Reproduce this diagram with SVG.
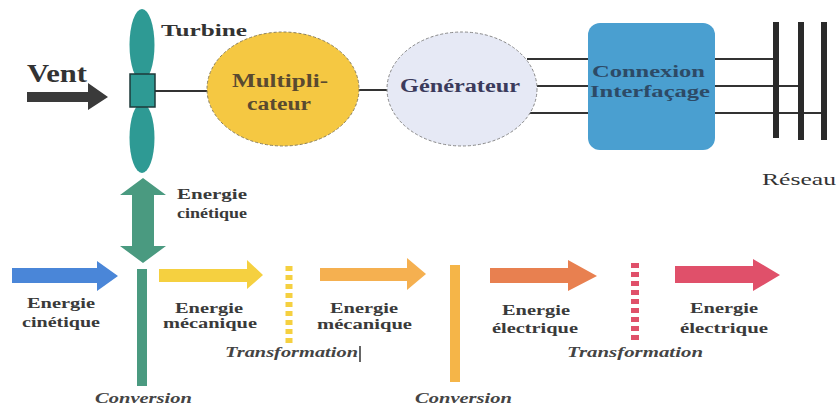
<svg xmlns="http://www.w3.org/2000/svg" width="838" height="408" viewBox="0 0 838 408" font-family="Liberation Serif, DejaVu Serif, serif">
<style>
text { fill: #333; }
.b { font-weight: bold; }
.lbl { font-size: 15px; font-weight: bold; fill: #3a3a3a; }
.it { font-size: 15px; font-style: italic; font-weight: bold; fill: #444; }
.wire { stroke: #333; stroke-width: 2; fill: none; }
.bar { fill: #2a2a2a; }
</style>
<rect width="838" height="408" fill="#ffffff"/>

<g id="connectors">
  <line class="wire" x1="155" y1="91" x2="208" y2="91"/>
  <line class="wire" x1="358" y1="90" x2="388" y2="90"/>
  <line class="wire" x1="527" y1="59" x2="590" y2="59"/>
  <line class="wire" x1="537" y1="86" x2="590" y2="86"/>
  <line class="wire" x1="529" y1="113" x2="590" y2="113"/>
  <line class="wire" x1="713" y1="59" x2="776" y2="59"/>
  <line class="wire" x1="713" y1="86" x2="801" y2="86"/>
  <line class="wire" x1="713" y1="113" x2="824" y2="113"/>
</g>

<g id="vent">
  <polygon points="27,92 88,92 88,83 108,97 88,110 88,102 27,102" fill="#3a3a3a"/>
  <text class="b" x="27" y="82" font-size="25" font-family="Liberation Serif" textLength="60" lengthAdjust="spacingAndGlyphs">Vent</text>
</g>

<g id="turbine">
  <ellipse cx="142" cy="45" rx="12.5" ry="36" fill="#2e9a94"/>
  <ellipse cx="142" cy="138" rx="12.5" ry="35" fill="#2e9a94"/>
  <rect x="130" y="74" width="25" height="33" fill="#2e9a94" stroke="#1e3a3a" stroke-width="1.5"/>
  <text class="b" x="161" y="36" font-size="17" textLength="86" lengthAdjust="spacingAndGlyphs">Turbine</text>
</g>

<g id="multiplicateur">
  <ellipse cx="283" cy="89" rx="76" ry="57" fill="#f5c842" stroke="#8a8060" stroke-width="1" stroke-dasharray="3,2"/>
  <text class="b" x="232" y="87" font-size="18" style="fill:#5a4a30" textLength="96" lengthAdjust="spacingAndGlyphs">Multipli-</text>
  <text class="b" x="247" y="110" font-size="18" style="fill:#5a4a30" textLength="64" lengthAdjust="spacingAndGlyphs">cateur</text>
</g>

<g id="generateur">
  <ellipse cx="462" cy="89" rx="75" ry="57" fill="#e6e9f5" stroke="#888" stroke-width="1" stroke-dasharray="3,2"/>
  <text class="b" x="400" y="92" font-size="18" style="fill:#3b3b5c" textLength="120" lengthAdjust="spacingAndGlyphs">Générateur</text>
</g>

<g id="connexion">
  <rect x="588" y="23" width="127" height="127" rx="12" fill="#4a9fd0"/>
  <text class="b" x="592" y="77" font-size="17" style="fill:#2d4a66" textLength="113" lengthAdjust="spacingAndGlyphs">Connexion</text>
  <text class="b" x="590" y="97" font-size="17" style="fill:#2d4a66" textLength="120" lengthAdjust="spacingAndGlyphs">Interfaçage</text>
</g>

<g id="reseau">
  <rect class="bar" x="773" y="22" width="6" height="116"/>
  <rect class="bar" x="798" y="22" width="6" height="118"/>
  <rect class="bar" x="821" y="22" width="6" height="118"/>
  <text x="762" y="185" font-size="17" textLength="74" lengthAdjust="spacingAndGlyphs">Réseau</text>
</g>

<g id="energie-cinetique-vertical">
  <polygon points="143,178 166,195 154,195 154,246 166,246 143,263 120,246 132,246 132,195 120,195" fill="#4a9a80"/>
  <text class="lbl" x="177" y="199" textLength="70" lengthAdjust="spacingAndGlyphs">Energie</text>
  <text class="lbl" x="177" y="218" textLength="70" lengthAdjust="spacingAndGlyphs">cinétique</text>
  <rect x="137" y="269" width="10" height="117" fill="#4a9a80"/>
  <text class="it" x="95" y="403" textLength="97" lengthAdjust="spacingAndGlyphs">Conversion</text>
</g>

<g id="energie-cinetique">
  <polygon points="12,268 97,268 97,261 118,276 97,291 97,283 12,283" fill="#4a86d8"/>
  <text class="lbl" x="27" y="308" textLength="68" lengthAdjust="spacingAndGlyphs">Energie</text>
  <text class="lbl" x="22" y="327" textLength="78" lengthAdjust="spacingAndGlyphs">cinétique</text>
</g>

<g id="energie-mecanique-1">
  <polygon points="159,269 247,269 247,260 263,275 247,289 247,282 159,282" fill="#f5d040"/>
  <text class="lbl" x="175" y="313" textLength="68" lengthAdjust="spacingAndGlyphs">Energie</text>
  <text class="lbl" x="163" y="328" textLength="94" lengthAdjust="spacingAndGlyphs">mécanique</text>
</g>

<g id="transformation-1">
  <line x1="289" y1="266" x2="289" y2="344" stroke="#f5d040" stroke-width="7" stroke-dasharray="5,4"/>
  <text class="it" x="225" y="357" textLength="133" lengthAdjust="spacingAndGlyphs">Transformation</text>
  <line x1="360" y1="346" x2="360" y2="362" stroke="#333" stroke-width="1.5"/>
</g>

<g id="energie-mecanique-2">
  <polygon points="320,268 407,268 407,258 426,274 407,290 407,281 320,281" fill="#f5b050"/>
  <text class="lbl" x="330" y="313" textLength="68" lengthAdjust="spacingAndGlyphs">Energie</text>
  <text class="lbl" x="317" y="329" textLength="95" lengthAdjust="spacingAndGlyphs">mécanique</text>
</g>

<g id="conversion-2">
  <rect x="450" y="265" width="10" height="117" fill="#f5b548"/>
  <text class="it" x="415" y="403" textLength="97" lengthAdjust="spacingAndGlyphs">Conversion</text>
</g>

<g id="energie-electrique-1">
  <polygon points="490,268 568,268 568,260 597,276 568,291 568,283 490,283" fill="#e88050"/>
  <text class="lbl" x="502" y="315" textLength="68" lengthAdjust="spacingAndGlyphs">Energie</text>
  <text class="lbl" x="492" y="333" textLength="86" lengthAdjust="spacingAndGlyphs">électrique</text>
</g>

<g id="transformation-2">
  <line x1="635" y1="263" x2="635" y2="341" stroke="#e0506a" stroke-width="8" stroke-dasharray="5,4"/>
  <text class="it" x="567" y="357" textLength="136" lengthAdjust="spacingAndGlyphs">Transformation</text>
</g>

<g id="energie-electrique-2">
  <polygon points="675,266 753,266 753,259 780,275 753,291 753,283 675,283" fill="#e0506a"/>
  <text class="lbl" x="690" y="313" textLength="68" lengthAdjust="spacingAndGlyphs">Energie</text>
  <text class="lbl" x="680" y="333" textLength="88" lengthAdjust="spacingAndGlyphs">électrique</text>
</g>
</svg>
